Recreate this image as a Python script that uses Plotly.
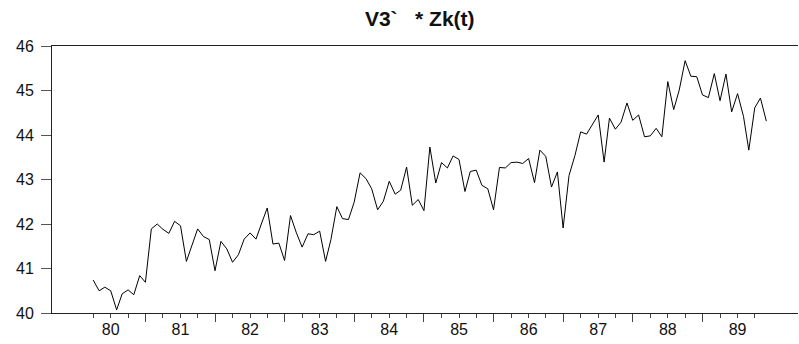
import pandas as pd
import plotly.graph_objects as go

# ---- data (monthly, starting Oct 1979) ----
start_month = "1979-10-01"
values = [
    40.74, 40.50, 40.58, 40.50, 40.07, 40.43, 40.52, 40.41, 40.84, 40.69,
    41.89, 42.00, 41.88, 41.79, 42.06, 41.96, 41.16, 41.50, 41.89, 41.72,
    41.65, 40.95, 41.61, 41.44, 41.14, 41.31, 41.66, 41.80, 41.66, 42.00,
    42.36, 41.55, 41.57, 41.18, 42.19, 41.80, 41.48, 41.78, 41.76, 41.84,
    41.16, 41.65, 42.39, 42.12, 42.10, 42.49, 43.15, 43.02, 42.79, 42.32,
    42.51, 42.96, 42.67, 42.76, 43.28, 42.42, 42.55, 42.30, 43.73, 42.92,
    43.38, 43.26, 43.53, 43.45, 42.73, 43.18, 43.21, 42.87, 42.79, 42.32,
    43.27, 43.26, 43.38, 43.39, 43.36, 43.47, 42.93, 43.66, 43.52, 42.83,
    43.17, 41.91, 43.09, 43.54, 44.07, 44.02, 44.22, 44.45, 43.39, 44.38,
    44.13, 44.29, 44.72, 44.33, 44.45, 43.96, 43.98, 44.15, 43.96, 45.20,
    44.57, 45.01, 45.67, 45.32, 45.31, 44.90, 44.84, 45.38, 44.77, 45.37,
    44.52, 44.93, 44.42, 43.66, 44.61, 44.83, 44.31,
]
dates = pd.date_range(start_month, periods=len(values), freq="MS")

year_label_dates = pd.date_range("1980-01-01", "1989-01-01", freq="YS")
year_labels = ["80", "81", "82", "83", "84", "85", "86", "87", "88", "89"]
long_tick_dates = pd.date_range("1980-07-01", "1988-07-01", freq="12MS")
quarter_tick_dates = pd.date_range("1979-10-01", "1989-04-01", freq="QS")
y_ticks = [40, 41, 42, 43, 44, 45, 46]

title_text = "V3`\u00a0\u00a0 * Zk(t)"

FONT = "Liberation Sans, Arial, sans-serif"
x_range = ["1979-02-27", "1989-11-14"]

fig = go.Figure()
fig.add_trace(go.Scatter(
    x=dates, y=values, mode="lines",
    line=dict(color="black", width=1),
    showlegend=False, hoverinfo="x+y",
))
# invisible trace to activate the label axis
fig.add_trace(go.Scatter(
    x=[dates[0]], y=[values[0]], xaxis="x2", mode="markers",
    marker=dict(opacity=0), showlegend=False, hoverinfo="skip",
))

fig.update_layout(
    width=799, height=344,
    margin=dict(l=52, r=1, t=46, b=31, autoexpand=False),
    paper_bgcolor="white", plot_bgcolor="white",
    font=dict(family=FONT, size=16, color="#111111"),
    title=dict(
        text="<b>" + title_text + "</b>",
        x=0.493, xanchor="center", xref="paper",
        y=0.945, yanchor="middle", yref="container",
        font=dict(family=FONT, size=21, color="#111111"),
        automargin=False,
    ),
    xaxis=dict(
        type="date", range=x_range, automargin=False,
        showgrid=False, zeroline=False,
        showline=True, linecolor="#222222", linewidth=1, mirror=True,
        tickmode="array", tickvals=list(long_tick_dates),
        ticks="outside", ticklen=8, tickcolor="#444444", tickwidth=1,
        showticklabels=False,
        minor=dict(
            tickmode="array", tickvals=list(quarter_tick_dates),
            ticks="outside", ticklen=4, tickcolor="#444444", tickwidth=1,
            showgrid=False,
        ),
    ),
    xaxis2=dict(
        type="date", range=x_range, overlaying="x", anchor="y", side="bottom",
        automargin=False,
        showgrid=False, zeroline=False, showline=False,
        tickmode="array", tickvals=list(year_label_dates), ticktext=year_labels,
        ticks="", ticklabelstandoff=5,
        tickfont=dict(family=FONT, size=16, color="#111111"),
    ),
    yaxis=dict(
        range=[40, 46], showgrid=False, zeroline=False, automargin=False,
        showline=True, linecolor="#222222", linewidth=1,
        tickmode="array", tickvals=y_ticks,
        ticks="outside", ticklen=10, tickcolor="#555555", tickwidth=1,
        ticklabelstandoff=4,
        tickfont=dict(family=FONT, size=16, color="#111111"),
    ),
)

fig.write_html(
    "out.html",
    config={"displayModeBar": False},
    post_script="document.body.style.margin='0';document.body.style.overflow='hidden';",
)
